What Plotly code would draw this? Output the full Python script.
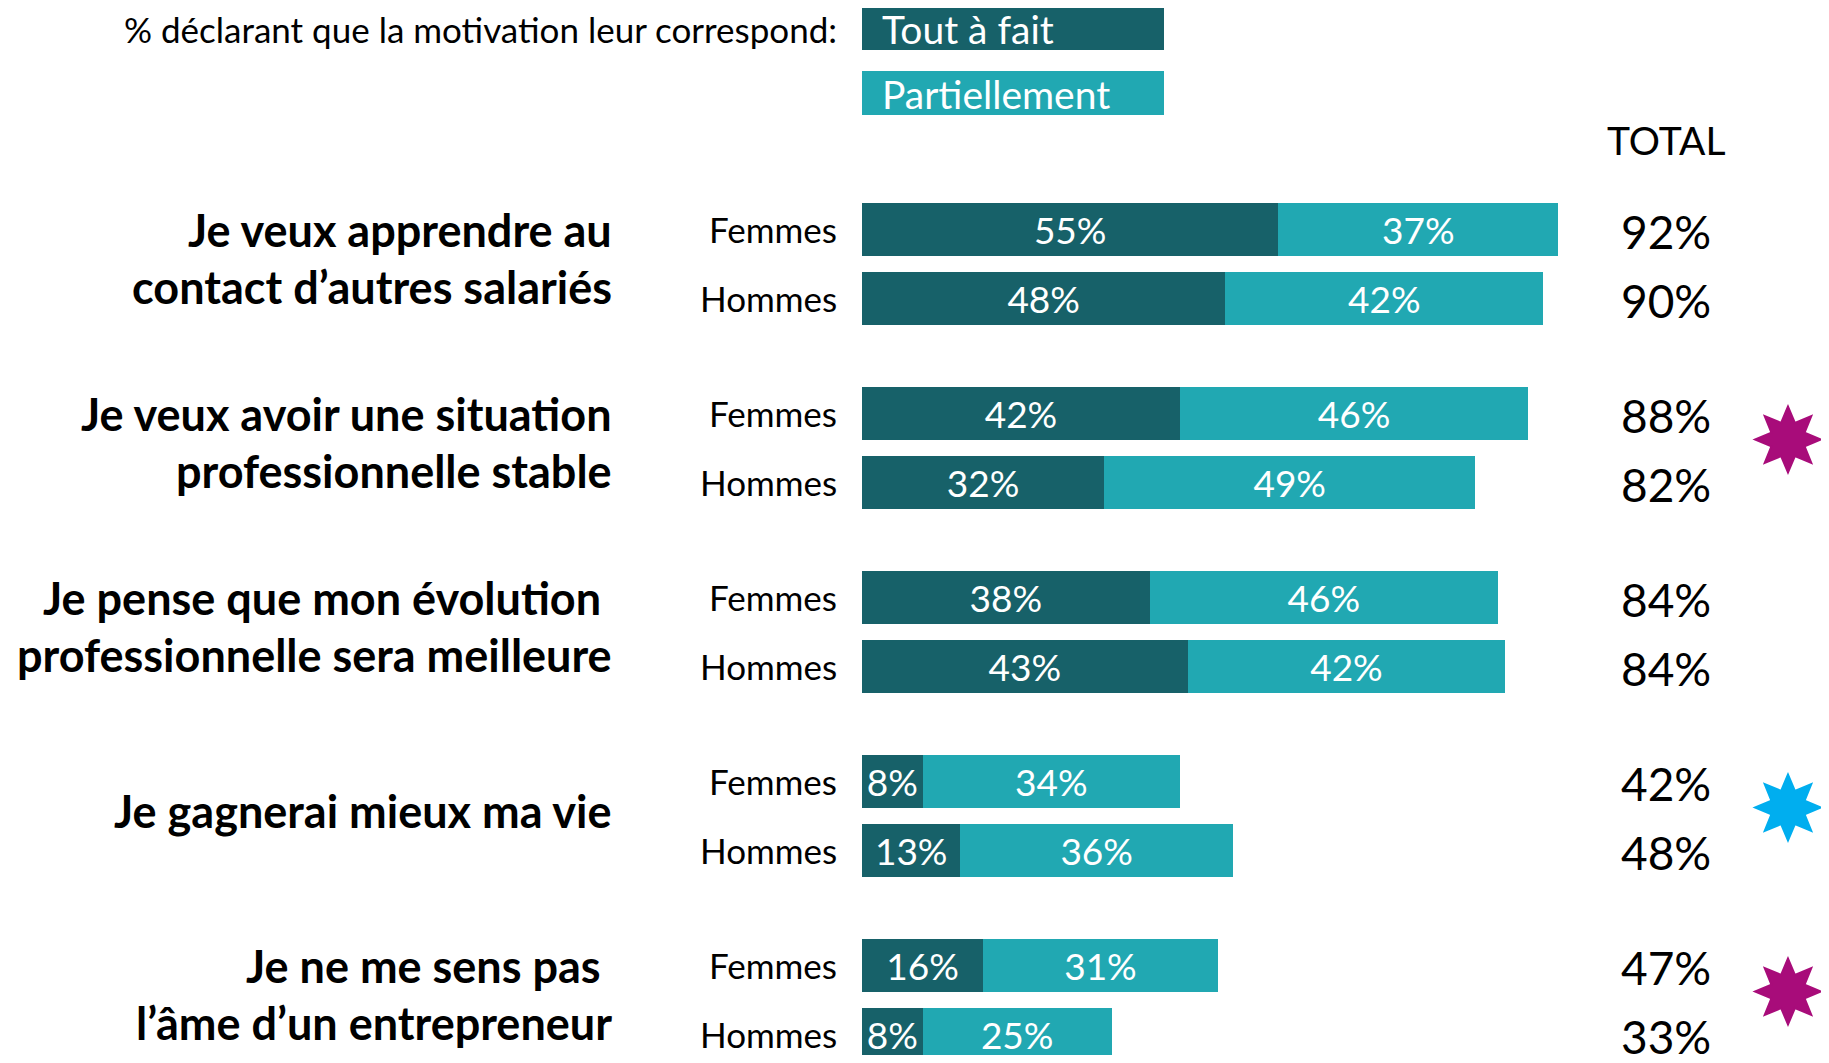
import math
import plotly.graph_objects as go

# Données
motivations = [
    ["Je veux apprendre au", "contact d’autres salariés"],
    ["Je veux avoir une situation", "professionnelle stable"],
    ["Je pense que mon évolution\u00a0", "professionnelle sera meilleure"],
    ["Je gagnerai mieux ma vie"],
    ["Je ne me sens pas\u00a0", "l’âme d’un entrepreneur"],
]
genres = ["Femmes", "Hommes"]
tout_a_fait = [[55, 48], [42, 32], [38, 43], [8, 13], [16, 8]]
partiellement = [[37, 42], [46, 49], [46, 42], [34, 36], [31, 25]]
total = [[92, 90], [88, 82], [84, 84], [42, 48], [47, 33]]
etoiles = ["", "#A80C7A", "", "#00AEEF", "#A80C7A"]

# Mise en page (pixels de la page; la page a une marge de 8 px)
W, H = 1829, 1063
OFF = 8
FW, FH = W - 2 * OFF, H - 2 * OFF
X0, PX = 862, 7.57          # position du 0 % et pixels par point
Y0, ROW, GROUP = 229, 69, 184
FONT = "Lato"
FONCE, CLAIR = "#176169", "#21A8B2"


def px(x):
    return (x - OFF) / FW


def py(y):
    return y - OFF


ys, taf, part, tot, lab = [], [], [], [], []
for g in range(len(motivations)):
    for i, genre in enumerate(genres):
        ys.append(py(Y0 + g * GROUP + i * ROW))
        taf.append(tout_a_fait[g][i])
        part.append(partiellement[g][i])
        tot.append(total[g][i])
        lab.append(genre)

fig = go.Figure()
for vals, col in [(taf, FONCE), (part, CLAIR)]:
    fig.add_trace(go.Bar(
        x=vals, y=ys, orientation="h", width=53,
        marker=dict(color=col, line=dict(width=0)),
        text=[f"{v}%" for v in vals], textposition="inside",
        insidetextanchor="middle", constraintext="none",
        textfont=dict(family=FONT, size=37, color="white"),
        hoverinfo="skip"))

ann = []
# libellés des motivations
for g, lignes in enumerate(motivations):
    c = py(Y0 + g * GROUP + ROW / 2 - 5)
    n = len(lignes)
    for k, t in enumerate(lignes):
        ann.append(dict(x=px(614), xref="paper", y=c + (k - (n - 1) / 2) * 57, yref="y",
                        text=t, xanchor="right", yanchor="middle", showarrow=False,
                        font=dict(family=FONT, size=45, color="black", weight="bold")))
# Femmes / Hommes + totaux
for y, l, t in zip(ys, lab, tot):
    ann.append(dict(x=px(839), xref="paper", y=y, yref="y", text=l,
                    xanchor="right", yanchor="middle", showarrow=False,
                    font=dict(family=FONT, size=35, color="black")))
    ann.append(dict(x=px(1666), xref="paper", y=y + 2, yref="y", text=f"{t}%",
                    xanchor="center", yanchor="middle", showarrow=False,
                    font=dict(family=FONT, size=46, color="black")))
# en-têtes et légende
ann += [
    dict(x=px(839), xref="paper", y=py(29), yref="y", xanchor="right", yanchor="middle",
         showarrow=False, text="% déclarant que la motivation leur correspond:",
         font=dict(family=FONT, size=35, color="black")),
    dict(x=px(1666), xref="paper", y=py(140), yref="y", xanchor="center", yanchor="middle",
         showarrow=False, text="TOTAL",
         font=dict(family=FONT, size=39, color="black")),
    dict(x=px(880), xref="paper", y=py(29), yref="y", xanchor="left", yanchor="middle",
         showarrow=False, text="Tout à fait",
         font=dict(family=FONT, size=39, color="white")),
    dict(x=px(880), xref="paper", y=py(94), yref="y", xanchor="left", yanchor="middle",
         showarrow=False, text="Partiellement",
         font=dict(family=FONT, size=39, color="white")),
]

shapes = [
    dict(type="rect", xref="paper", yref="y", x0=px(862), x1=px(1164), y0=py(6), y1=py(50),
         fillcolor=FONCE, line=dict(width=0), layer="below"),
    dict(type="rect", xref="paper", yref="y", x0=px(862), x1=px(1164), y0=py(71), y1=py(115),
         fillcolor=CLAIR, line=dict(width=0), layer="below"),
]

# étoiles à 8 branches
pts = []
for k in range(16):
    r = 33 if k % 2 == 0 else 18
    a = math.pi / 2 + k * math.pi / 8
    pts.append(f"{r * math.cos(a):.1f},{r * math.sin(a):.1f}")
star_path = "M" + " L".join(pts) + " Z"
for g, col in enumerate(etoiles):
    if col:
        shapes.append(dict(type="path", path=star_path, xref="paper", yref="y",
                           xsizemode="pixel", ysizemode="pixel",
                           xanchor=px(1788), yanchor=py(Y0 + g * GROUP + ROW / 2 - 8),
                           fillcolor=col, line=dict(color=col, width=2)))

fig.update_layout(
    width=FW, height=FH, barmode="stack", showlegend=False,
    margin=dict(l=0, r=0, t=0, b=0),
    paper_bgcolor="white", plot_bgcolor="white",
    xaxis=dict(range=[-(X0 - OFF) / PX, (FW - (X0 - OFF)) / PX], visible=False, fixedrange=True),
    yaxis=dict(range=[FH, 0], visible=False, fixedrange=True),
    annotations=ann, shapes=shapes,
    uniformtext=dict(minsize=37, mode="show"),
)

fig.write_html("out.html", config={"displayModeBar": False})
